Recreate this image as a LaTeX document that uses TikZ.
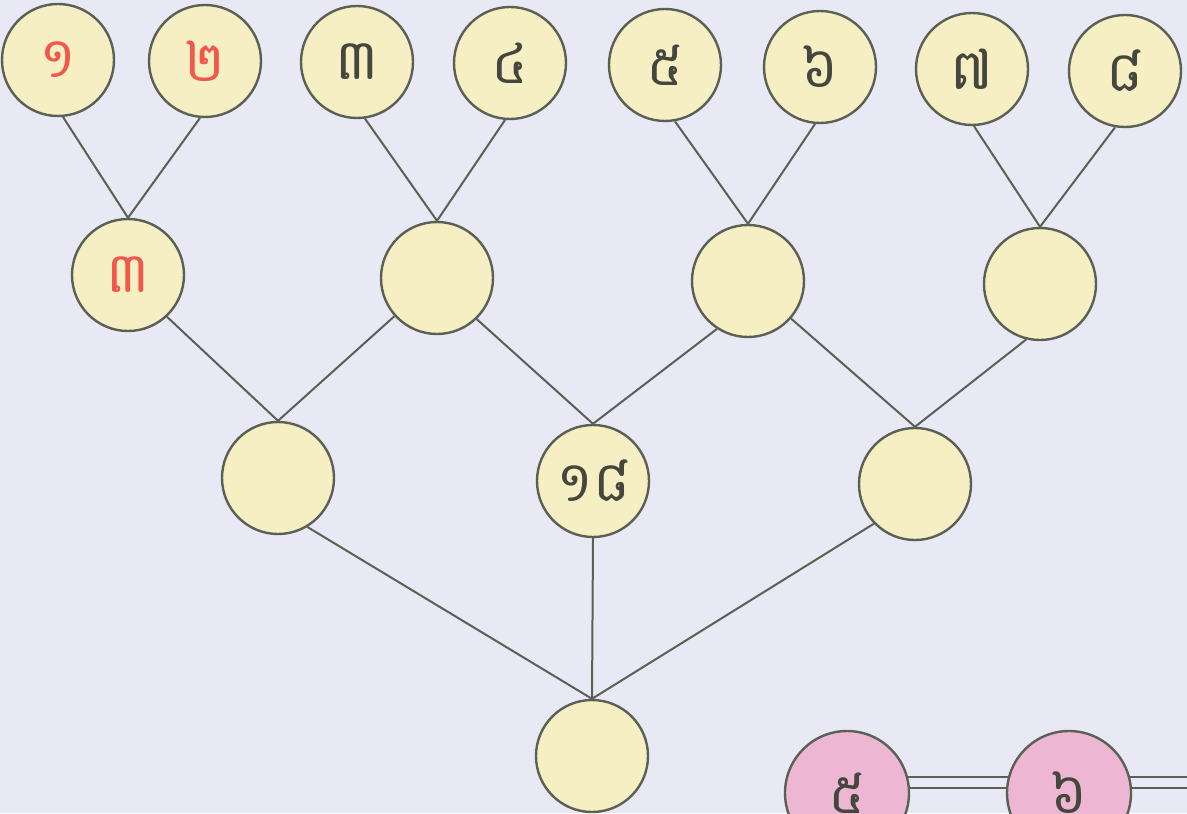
\documentclass[tikz,border=0pt]{standalone}
\usepackage{fontspec}
\newfontfamily\khmerfont[Script=Khmer]{Battambang}
\definecolor{bgc}{HTML}{E8E9F4}
\definecolor{ballc}{HTML}{F6EFC4}
\definecolor{edgec}{HTML}{5B6055}
\definecolor{redc}{HTML}{F2574A}
\definecolor{digc}{HTML}{45473F}
\definecolor{pinkc}{HTML}{EDB6D2}
\pgfdeclarelayer{bgl}
\pgfdeclarelayer{lines}
\pgfsetlayers{bgl,lines,main}
\tikzset{
  ball/.style={circle, draw=edgec, line width=1.8pt, fill=ballc, minimum size=84pt, inner sep=0pt,
    font=\khmerfont\fontsize{42}{42}\selectfont, text=digc},
  pball/.style={ball, fill=pinkc, minimum size=93pt},
  red/.style={text=redc},
  link/.style={draw=edgec, line width=1.5pt},
  dlink/.style={draw=edgec, line width=1.4pt}
}
\begin{document}
\begin{tikzpicture}[x=0.75pt,y=-0.75pt]
\useasboundingbox (0,0) rectangle (1187,813);
\clip (0,0) rectangle (1187,813);
\begin{pgfonlayer}{bgl}
\fill[bgc] (0,0) rectangle (1187,813);
\end{pgfonlayer}
% nodes
\node[ball,red] (T1) at (58,60) {១};
\node[ball,red] (T2) at (205,61) {២};
\node[ball] (T3) at (357,62) {៣};
\node[ball] (T4) at (510,63) {៤};
\node[ball] (T5) at (665,65) {៥};
\node[ball] (T6) at (820,67) {៦};
\node[ball] (T7) at (972,69) {៧};
\node[ball] (T8) at (1125,71) {៨};
\node[ball,red] (M1) at (128,275) {៣};
\node[ball] (M2) at (437,278) {};
\node[ball] (M3) at (748,281) {};
\node[ball] (M4) at (1040,284) {};
\node[ball] (R1) at (278,478) {};
\node[ball] (R2) at (593,481) {១៨};
\node[ball] (R3) at (915,484) {};
\node[ball] (B) at (592,756) {};
\node[pball] (P1) at (847,793) {៥};
\node[pball] (P2) at (1069,793) {៦};
\coordinate (E) at (1195,793);
% connectors
\begin{pgfonlayer}{lines}
\path[link] (T1.-85) -- (M1.north) (T2.-95) -- (M1.north)
  (T3.-82) -- (M2.north) (T4.-95) -- (M2.north)
  (T5.-80) -- (M3.north) (T6.-95) -- (M3.north)
  (T7.-88) -- (M4.north) (T8.-100) -- (M4.north)
  (M1.-47) -- (R1.north) (M2) -- (R1.north)
  (M2.-46) -- (R2.north) (M3.-123) -- (R2.north)
  (M3) -- (R3.north) (M4.-104) -- (R3.north)
  (R1.-59) -- (B.north) (R2.south) -- (B.north) (R3.-136) -- (B.north);
\path[dlink] ([yshift=12pt]P1.center) -- ([yshift=12pt]P2.center)
  ([yshift=3.8pt]P1.center) -- ([yshift=3.8pt]P2.center)
  ([yshift=12pt]P2.center) -- ([yshift=12pt]E)
  ([yshift=3.8pt]P2.center) -- ([yshift=3.8pt]E);
\end{pgfonlayer}
\end{tikzpicture}
\end{document}
